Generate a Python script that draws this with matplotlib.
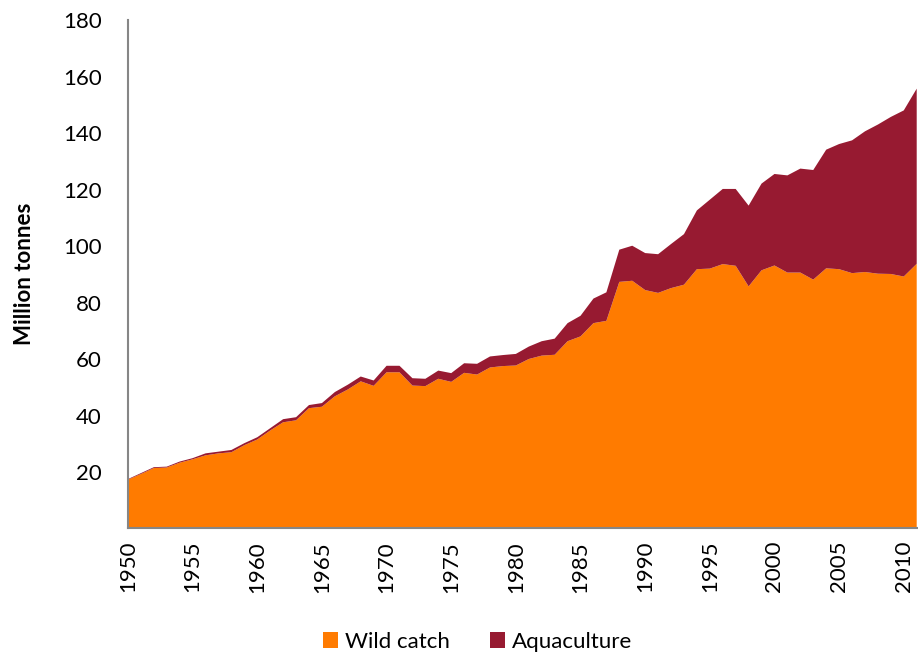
import matplotlib
matplotlib.use("Agg")
import matplotlib.pyplot as plt
import numpy as np

years = list(range(1950, 2012))
total = [17.5, 19.6, 21.7, 21.9, 23.7, 24.9, 26.6, 27.2, 27.8, 30.2,
         32.3, 35.5, 38.7, 39.4, 43.7, 44.4, 48.3, 50.9, 53.8, 52.4,
         57.6, 57.6, 53.2, 53.0, 55.9, 55.0, 58.5, 58.3, 60.9, 61.4,
         61.8, 64.4, 66.3, 67.2, 72.7, 75.3, 81.4, 83.6, 98.7, 100.1,
         97.5, 97.1, 100.7, 104.2, 112.6, 116.4, 120.2, 120.2, 114.3, 122.1,
         125.5, 125.0, 127.4, 126.9, 134.1, 136.1, 137.4, 140.6, 143.0, 145.7,
         148.0, 155.7]
wild = [17.3, 19.3, 21.4, 21.6, 23.3, 24.5, 25.9, 26.6, 27.0, 29.5,
        31.5, 34.7, 37.6, 38.3, 42.6, 43.1, 46.8, 49.2, 52.1, 50.5,
        55.3, 55.3, 50.6, 50.4, 53.0, 51.9, 55.1, 54.5, 57.0, 57.5,
        57.7, 60.0, 61.2, 61.5, 66.3, 68.0, 72.7, 73.5, 87.3, 87.7,
        84.4, 83.4, 85.1, 86.3, 91.8, 92.0, 93.6, 93.0, 85.7, 91.4,
        93.1, 90.6, 90.6, 88.1, 92.1, 91.8, 90.4, 90.8, 90.2, 90.1,
        89.2, 93.7]
aqua = [t - w for t, w in zip(total, wild)]

series_names = ["Wild catch", "Aquaculture"]
colors = ["#FF7B00", "#971A31"]
ytick_vals = [20, 40, 60, 80, 100, 120, 140, 160, 180]
xtick_vals = list(range(1950, 2011, 5))

plt.rcParams['font.family'] = ['Lato', 'DejaVu Sans']

fig = plt.figure(figsize=(9.18, 6.54), dpi=100)
ax = fig.add_axes([0.1394, 0.1919, 0.8606, 0.7775])

ax.stackplot(years, wild, aqua, colors=colors, labels=series_names, linewidth=0)

ax.set_xlim(1950, 2011.1)
ax.set_ylim(0, 180)
ax.set_yticks(ytick_vals)
ax.set_yticklabels([str(v) for v in ytick_vals], fontsize=16)
ax.set_xticks(xtick_vals)
ax.set_xticklabels([str(v) for v in xtick_vals], rotation=90, fontsize=16)
ax.tick_params(axis='y', length=0, pad=19)
ax.tick_params(axis='x', length=0, pad=9)

for s in ['top', 'right']:
    ax.spines[s].set_visible(False)
for s in ['left', 'bottom']:
    ax.spines[s].set_color('#868686')
    ax.spines[s].set_linewidth(1.5)

ax.set_ylabel("Million tonnes", fontsize=16, fontweight='bold')
ax.yaxis.set_label_coords(-0.118, 0.5)

fig.legend(loc='lower center', ncol=2, frameon=False, fontsize=16,
           bbox_to_anchor=(0.52, -0.027), handlelength=0.7, handleheight=0.7,
           handletextpad=0.3, columnspacing=1.8)

fig.savefig("out.png", dpi=100)
